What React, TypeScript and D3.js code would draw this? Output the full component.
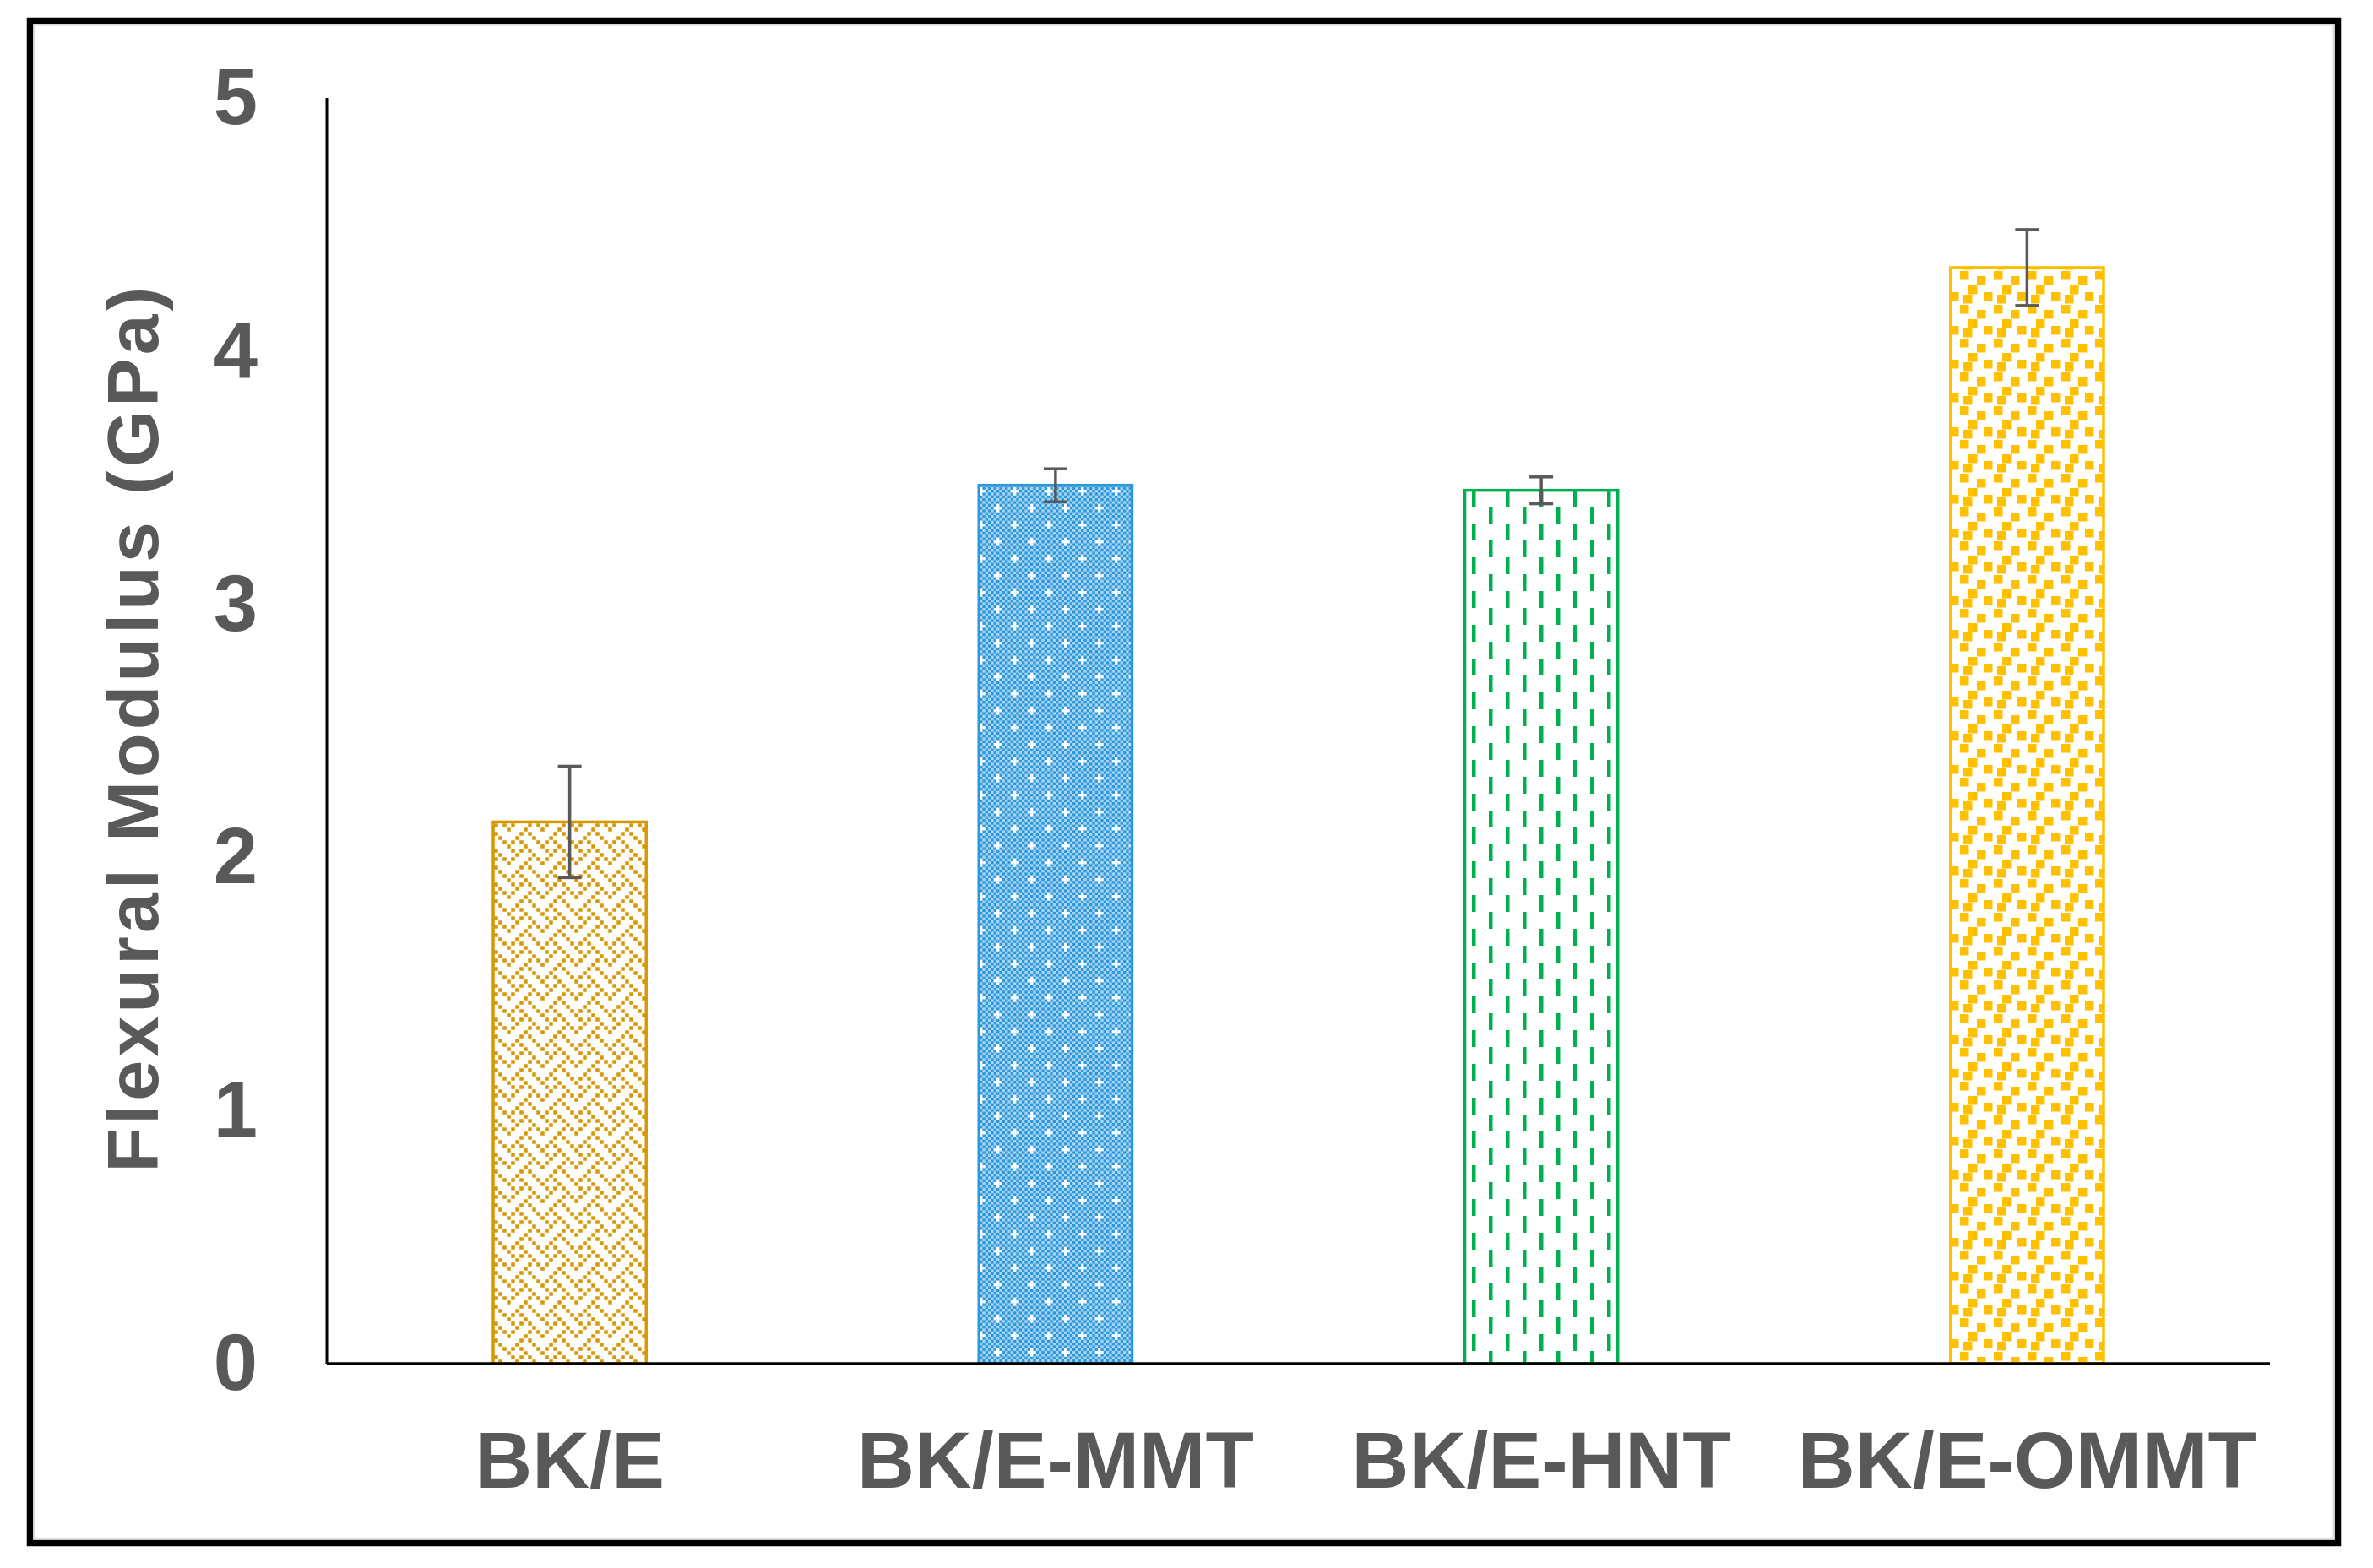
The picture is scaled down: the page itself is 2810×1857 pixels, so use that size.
import React from "react";
import * as d3 from "d3";

const categories = ["BK/E", "BK/E-MMT", "BK/E-HNT", "BK/E-OMMT"];
const values = [2.14, 3.47, 3.45, 4.33];
const errors = [0.22, 0.065, 0.053, 0.15];
const yTicks = [0, 1, 2, 3, 4, 5];
const colors = ["#D69806", "#2B98DC", "#00B050", "#FFC000"];
const patternIds = ["pWeave", "pGrid", "pDash", "pConfetti"];
const yTitle = "Flexural Modulus (GPa)";

const W = 2810;
const H = 1857;
const left = 387;
const right = 2688;
const top = 116;
const bottom = 1615;

const weaveBytes = [0x88, 0x54, 0x22, 0x45, 0x88, 0x14, 0x22, 0x51];

export default function App() {
  const x = d3
    .scaleBand<string>()
    .domain(categories)
    .range([left, right])
    .paddingInner(0.685)
    .paddingOuter(0.3425);
  const y = d3.scaleLinear().domain([0, 5]).range([bottom, top]);
  const font = "'Liberation Sans', Arial, sans-serif";
  const textColor = "#595959";

  const cell = 5;
  const weaveCells: { cx: number; cy: number }[] = [];
  weaveBytes.forEach((b, r) => {
    for (let c = 0; c < 8; c++) {
      if (b & (0x80 >> c)) weaveCells.push({ cx: c, cy: r });
    }
  });

  const gc = 40 / 12;
  const checker: { cx: number; cy: number }[] = [];
  for (let r = 0; r < 12; r++)
    for (let c = 0; c < 12; c++) if ((r + c) % 2 === 0) checker.push({ cx: c, cy: r });
  const crossCenters = [
    [6, 0],
    [0, 6],
  ];

  const confetti = [
    [1, 1],
    [21, 7],
    [11, 18],
    [29, 26],
    [5, 29],
  ];

  return (
    <svg
      width={W}
      height={H}
      style={{ position: "absolute", left: 0, top: 0, background: "#fff" }}
      xmlns="http://www.w3.org/2000/svg"
    >
      <defs>
        <pattern id="pWeave" patternUnits="userSpaceOnUse" width={cell * 8} height={cell * 8}>
          <rect width={cell * 8} height={cell * 8} fill="#fff" />
          {weaveCells.map((d, i) => (
            <rect key={i} x={d.cx * cell + 0.25} y={d.cy * cell + 0.25} width={cell - 0.5} height={cell - 0.5} fill={colors[0]} />
          ))}
        </pattern>
        <pattern id="pGrid" patternUnits="userSpaceOnUse" width={40} height={40}>
          <rect width={40} height={40} fill="#a9d4f1" />
          {checker.map((d, i) => (
            <rect key={i} x={d.cx * gc} y={d.cy * gc} width={gc} height={gc} fill={colors[1]} />
          ))}
          {crossCenters.map(([cx, cy], i) =>
            [
              [0, 0],
              [1, 0],
              [-1, 0],
              [0, 1],
              [0, -1],
            ].map(([dx, dy], j) => {
              const xx = (((cx + dx) % 12) + 12) % 12;
              const yy = (((cy + dy) % 12) + 12) % 12;
              return <rect key={i + "-" + j} x={xx * gc} y={yy * gc} width={gc} height={gc} fill="#fff" />;
            })
          )}
        </pattern>
        <pattern id="pDash" patternUnits="userSpaceOnUse" width={40} height={40} x={3}>
          <rect width={40} height={40} fill="#fff" />
          <rect x={0} y={0} width={4.5} height={20} fill={colors[2]} />
          <rect x={20} y={20} width={4.5} height={20} fill={colors[2]} />
        </pattern>
        <pattern id="pConfetti" patternUnits="userSpaceOnUse" width={40} height={40}>
          <rect width={40} height={40} fill="#fff" />
          {confetti.map(([cx, cy], i) => (
            <rect key={i} x={cx} y={cy} width={10.5} height={10.5} fill={colors[3]} />
          ))}
        </pattern>
      </defs>

      <rect x={35.5} y={24.5} width={2733} height={1803} fill="#fff" stroke="#000" strokeWidth={7.5} />
      <rect x={40.5} y={29.5} width={2723} height={1793} fill="none" stroke="#d9d9d9" strokeWidth={2} />

      {categories.map((c, i) => (
        <rect
          key={c}
          x={x(c)}
          y={y(values[i])}
          width={x.bandwidth()}
          height={y(0) - y(values[i])}
          fill={`url(#${patternIds[i]})`}
          stroke={colors[i]}
          strokeWidth={3.5}
        />
      ))}

      <line x1={left} x2={left} y1={top} y2={bottom} stroke="#000" strokeWidth={3} />
      <line x1={left} x2={right} y1={bottom} y2={bottom} stroke="#000" strokeWidth={3.5} />

      {categories.map((c, i) => {
        const cx = (x(c) as number) + x.bandwidth() / 2;
        const y1 = y(values[i] + errors[i]);
        const y2 = y(values[i] - errors[i]);
        return (
          <g key={c} stroke="#595959" strokeWidth={3.5}>
            <line x1={cx} x2={cx} y1={y1} y2={y2} />
            <line x1={cx - 14} x2={cx + 14} y1={y1} y2={y1} />
            <line x1={cx - 14} x2={cx + 14} y1={y2} y2={y2} />
          </g>
        );
      })}

      {yTicks.map((t) => (
        <text
          key={t}
          x={305}
          y={y(t) + 31}
          textAnchor="end"
          fontFamily={font}
          fontWeight="bold"
          fontSize={94}
          fill={textColor}
        >
          {t}
        </text>
      ))}

      {categories.map((c) => (
        <text
          key={c}
          x={(x(c) as number) + x.bandwidth() / 2}
          y={1762}
          textAnchor="middle"
          fontFamily={font}
          fontWeight="bold"
          fontSize={94}
          fill={textColor}
        >
          {c}
        </text>
      ))}

      <text
        transform="translate(187,864) rotate(-90)"
        textAnchor="middle"
        fontFamily={font}
        fontWeight="bold"
        fontSize={86}
        textLength={1049}
        lengthAdjust="spacing"
        fill={textColor}
      >
        {yTitle}
      </text>
    </svg>
  );
}
